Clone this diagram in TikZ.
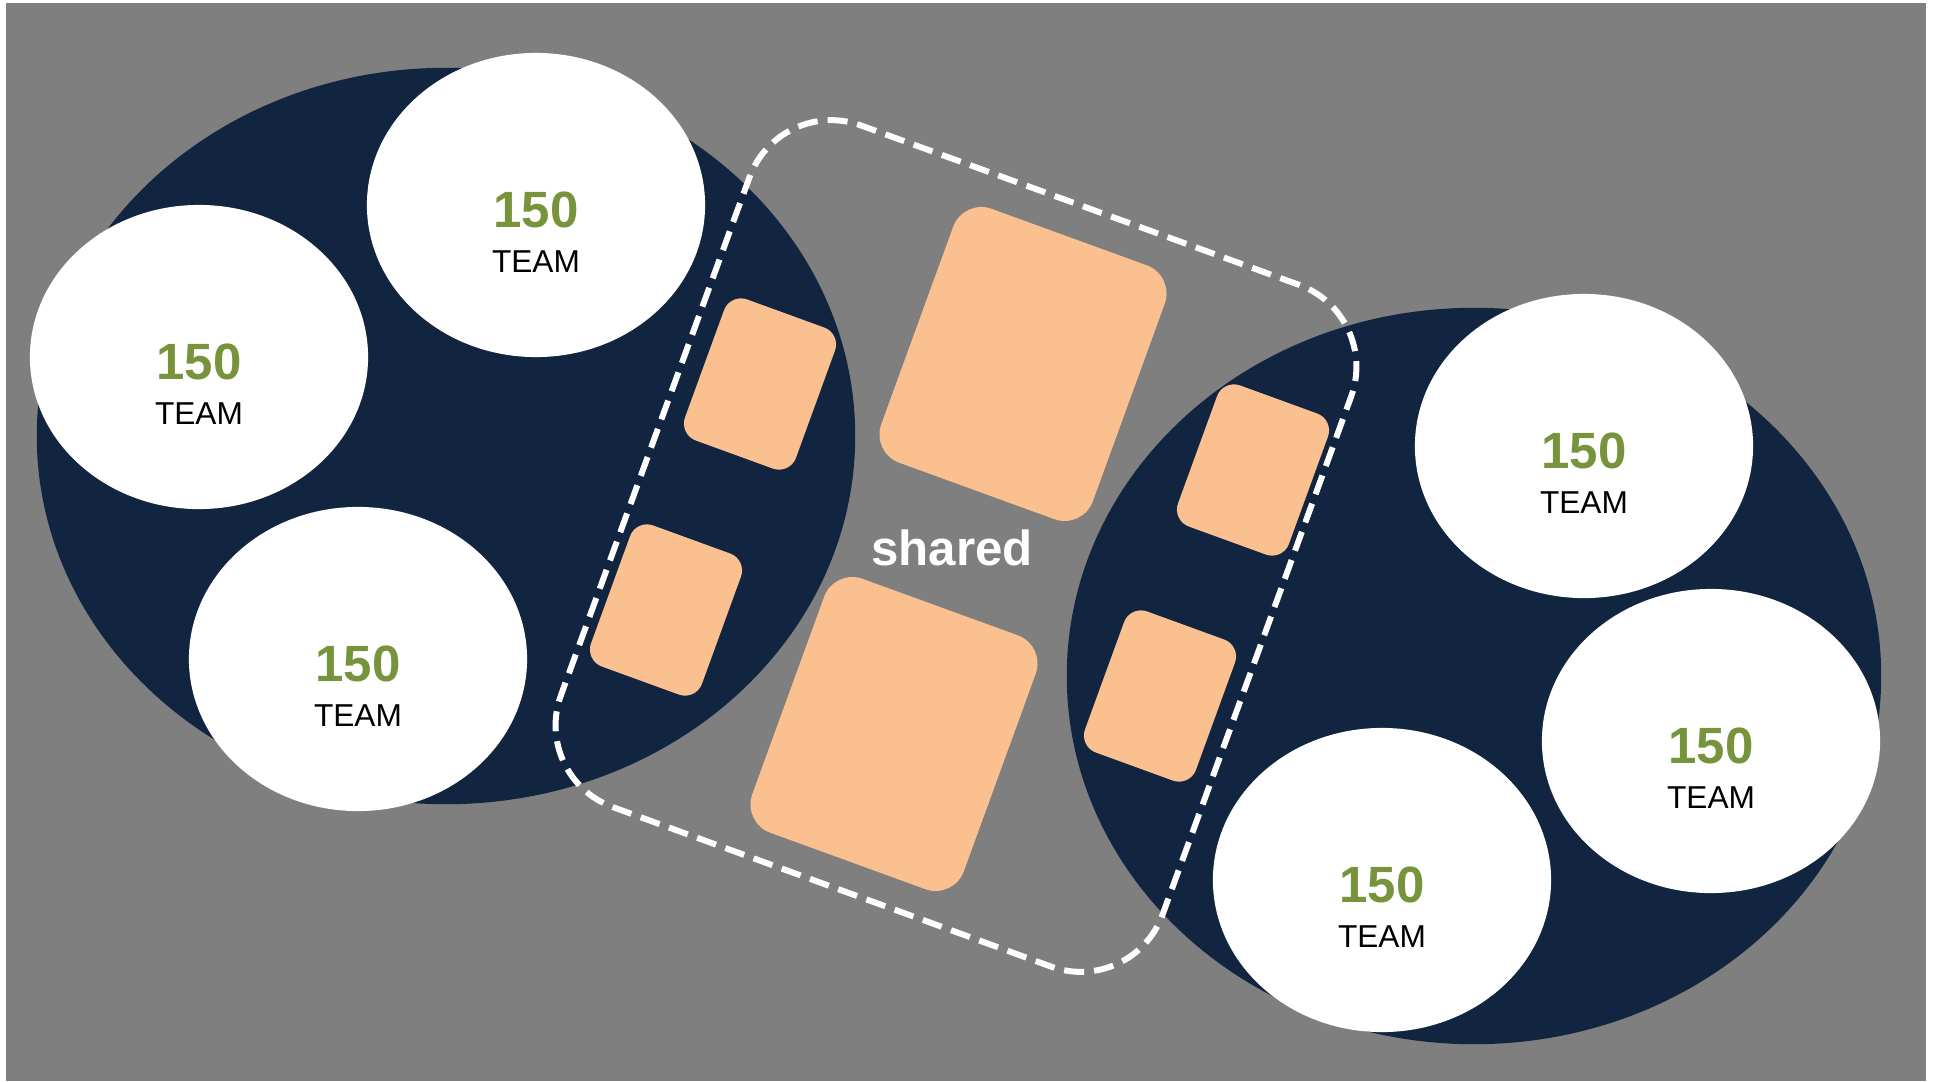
\documentclass[tikz,border=0pt]{standalone}
\usepackage{fontspec}
\setmainfont{Liberation Sans}
\usetikzlibrary{shapes.geometric}

\definecolor{bggray}{HTML}{7F7F7F}
\definecolor{navy}{HTML}{112440}
\definecolor{peach}{HTML}{FAC090}
\definecolor{olive}{HTML}{77933C}

\tikzset{
	team/.style={ellipse, fill=white, inner sep=0pt, minimum width=3.38cm, minimum height=3.04cm},
	num/.style={anchor=base, text=olive, font=\fontsize{14.5}{17}\selectfont\bfseries},
	lbl/.style={anchor=base, text=black, font=\fontsize{9}{11}\selectfont},
	bigtile/.style={rectangle, fill=peach, rounded corners=0.3cm, inner sep=0pt, minimum width=2.25cm, minimum height=2.7cm, rotate=-20},
	smalltile/.style={rectangle, fill=peach, rounded corners=0.18cm, inner sep=0pt, minimum width=1.18cm, minimum height=1.5cm, rotate=-20},
	sharebox/.style={rectangle, draw=white, line width=1.7pt, dash pattern=on 0.2cm off 0.1cm, rounded corners=0.87cm, inner sep=0pt, minimum width=6.4cm, minimum height=7.25cm, rotate=-20}
}

\begin{document}
\begin{tikzpicture}[x=0.01cm, y=-0.01cm]
	
	% Background
	\useasboundingbox (0,0) rectangle (1938,1081);
	\fill[bggray] (6,3) rectangle (1926,1081);
	
	% Groups
	\fill[navy] (446,436) ellipse [x radius=4.09cm, y radius=3.68cm];
	\fill[navy] (1474,676) ellipse [x radius=4.07cm, y radius=3.68cm];
	
	% Teams
	\node[team] (team1) at (536,205) {};
	\node[team] (team2) at (199,357) {};
	\node[team] (team3) at (358,659) {};
	\node[team] (team4) at (1584,446) {};
	\node[team] (team5) at (1711,741) {};
	\node[team] (team6) at (1382,880) {};
	
	% Shared area
	\node[sharebox] (share) at (956,546) {};
	
	% Tiles
	\node[bigtile] (big1) at (1023,364) {};
	\node[bigtile] (big2) at (894,734) {};
	\node[smalltile] (small1) at (760,384) {};
	\node[smalltile] (small2) at (666,610) {};
	\node[smalltile] (small3) at (1253,470) {};
	\node[smalltile] (small4) at (1160,696) {};
	
	% Labels
	\node[num] (num1) at ([yshift=-0.22cm]team1.center) {150};
	\node[lbl] (lbl1) at ([yshift=-0.67cm]team1.center) {TEAM};
	\node[num] (num2) at ([yshift=-0.22cm]team2.center) {150};
	\node[lbl] (lbl2) at ([yshift=-0.67cm]team2.center) {TEAM};
	\node[num] (num3) at ([yshift=-0.22cm]team3.center) {150};
	\node[lbl] (lbl3) at ([yshift=-0.67cm]team3.center) {TEAM};
	\node[num] (num4) at ([yshift=-0.22cm]team4.center) {150};
	\node[lbl] (lbl4) at ([yshift=-0.67cm]team4.center) {TEAM};
	\node[num] (num5) at ([yshift=-0.22cm]team5.center) {150};
	\node[lbl] (lbl5) at ([yshift=-0.67cm]team5.center) {TEAM};
	\node[num] (num6) at ([yshift=-0.22cm]team6.center) {150};
	\node[lbl] (lbl6) at ([yshift=-0.67cm]team6.center) {TEAM};
	\node[anchor=base, text=white, font=\fontsize{14}{17}\selectfont\bfseries] (sharetxt) at (952,565) {shared};
\end{tikzpicture}
\end{document}
